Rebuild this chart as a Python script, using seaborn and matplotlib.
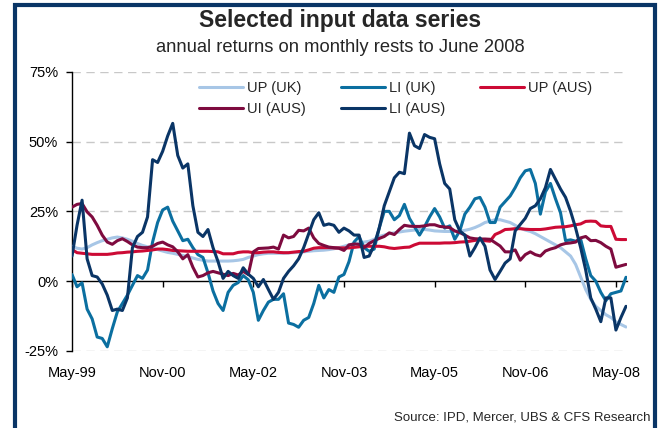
import numpy as np
import pandas as pd
import matplotlib
matplotlib.use("Agg")
import matplotlib.pyplot as plt
import seaborn as sns
from matplotlib.patches import Rectangle
from matplotlib.lines import Line2D

# ---------------- data (annual returns, %, monthly, May-99 .. Jun-08) ----------------
up_uk = [12.5, 11.8, 11.5, 12, 13, 13.8, 14.5, 15, 15.5, 15.8, 15.5, 15, 14.3, 13.5, 12.8, 12.3,
         11.8, 11.3, 10.8, 10.3, 10, 9.6, 9.2, 8.8, 8.3, 7.8, 7.5, 7.2, 7.2, 7.2, 7.2, 7.2,
         7.3, 7.5, 7.8, 8.5, 9, 9.5, 9.8, 10, 10, 10, 10, 10.1, 10.2, 10.3, 10.5, 10.7,
         10.9, 11, 11.1, 11.3, 11.6, 12, 12.5, 13, 13.4, 13.7, 14, 14.3, 15, 16, 16.5, 17,
         17.3, 17.6, 17.9, 18.1, 18.3, 18.5, 18.5, 18.3, 18, 17.9, 17.8, 17.8, 17.8, 17.9,
         18.2, 18.6, 19.2, 20, 21, 21.5, 22, 22, 21.5, 21, 20, 19, 18.3, 17.8, 17, 16, 15,
         14, 13, 12, 10.5, 9, 6, 1.5, -3, -6.5, -9, -10.5, -12, -13, -14.5, -15.5, -16.4]

li_uk = [2.4, -2, -0.6, -10, -13.5, -20, -20.5, -23.5, -17, -11, -8, -5, -1.5, 2, 1, 4,
         14, 21, 25.5, 26.5, 21.5, 18, 14.5, 15, 12, 9.5, 8.5, 3, -3.5, -8, -10.5, -4,
         -1.5, -0.5, 2, 0.5, -4, -14, -10.5, -7.5, -6.5, -6.5, -4.5, -15, -15.5, -16.5, -14, -13,
         -8, -1.5, -6, -3, -4, 1.5, 2.4, 7, 14, 16, 12, 10.7, 11.5, 19, 25, 25,
         22, 23.5, 27.5, 22.5, 19.5, 16.5, 19.5, 23, 26, 23, 19, 19.8, 15, 18, 24, 26.5,
         29.5, 30, 26.5, 21, 21, 26.5, 28.5, 30.5, 33.5, 37, 39.5, 40, 35, 24, 32, 35,
         29.5, 24.5, 14.5, 14.8, 14.3, 15, 8, 2, 0, -4, -7, -4.5, -4, -3.5, 1.4]

up_aus = [11.3, 10.2, 10, 9.8, 9.6, 9.6, 9.6, 9.6, 9.8, 10.1, 10.2, 10.4, 10.5, 10.7, 10.8, 11,
          11.2, 11.5, 11.5, 11.3, 11, 10.9, 10.8, 10.7, 10.7, 10.7, 10.7, 10.7, 10.6, 10.5, 9.8, 9.8,
          9.8, 10.3, 10.5, 10.5, 10.2, 10.2, 10.4, 10.5, 10.5, 10.3, 10.2, 10.2, 10.4, 10.6, 10.7, 11.2,
          11.8, 12, 12, 12, 11.9, 11.9, 11.9, 11.9, 12.1, 12.3, 12.5, 12.5, 12.5, 12.5, 12.3, 11.9,
          11.7, 11.9, 12.1, 12.2, 13, 13.6, 13.6, 13.6, 13.6, 13.6, 13.7, 13.7, 13.8, 14, 14.1, 14.3,
          14.6, 14.9, 14.5, 14.3, 16.7, 17.5, 18.5, 18.6, 18.8, 18.8, 18.6, 18.5, 18.5, 18.5, 18.7, 19,
          19.3, 19.4, 19.5, 19.8, 20.2, 20.5, 21.4, 21.5, 21.4, 19.8, 19.6, 19.6, 15, 14.9, 14.9]

ui_aus = [26.5, 27.5, 27.8, 24.8, 23, 20, 16.5, 14, 13.2, 14.5, 15.2, 14.2, 13, 12.2, 12, 12,
          12.5, 13.5, 14, 13, 12.3, 10.5, 8, 9.5, 5, 1.5, 2, 3, 3.5, 3, 2.5, 2,
          2.8, 2.2, 3.5, 2.4, 10.5, 11.7, 11.8, 11.9, 12.2, 11.5, 16.5, 15.5, 16, 18.2, 18, 19,
          15.5, 13.5, 12.8, 12.2, 12, 11.8, 11, 13, 13.3, 13.2, 12, 13.5, 14.5, 15.3, 16, 17.3,
          16.7, 18.5, 20, 19.7, 19.6, 19.6, 19.8, 20.2, 20.2, 19.6, 19.4, 19.2, 18, 17.4, 16.5, 15.5,
          15.2, 15.1, 15.1, 15, 13.8, 12.6, 10.5, 10.5, 11.2, 7.5, 9.5, 10.5, 9.5, 9, 10.8, 11.5,
          12, 13, 13.5, 13.7, 14, 15.5, 16, 14.5, 14.6, 13.8, 12.5, 11.5, 5, 5.5, 6]

li_aus = [9, 20, 29, 8, 2, 1.5, -1, -5, -10.5, -10, -10.5, -6, 12, 16, 17.5, 23,
          43.5, 42.5, 46.5, 52, 56.5, 45, 40.5, 42, 27, 17.5, 16, 18.5, 12, 7, 1, 3.5,
          2, 1, 4.8, 2.5, 1, -2, 0.6, -3, -6.5, -4, 1, 3.5, 5.5, 8, 12, 17,
          22, 24.5, 20, 20.5, 20, 17.5, 19, 18, 16.5, 16.5, 8.5, 9, 13, 19, 27, 32,
          37, 39, 38.5, 53, 48.5, 47.5, 52.5, 51.5, 51, 42, 35, 33, 22, 18, 16.5, 9,
          12, 15.5, 12.5, 4, 0.6, 3.5, 6.5, 8, 18, 20.3, 22.5, 26, 27, 29.5, 33.5, 40,
          36.5, 33, 30, 25, 19, 12, 4, -6, -10, -14.5, -6, -6, -17.5, -13, -9]

series_names = ["UP (UK)", "LI (UK)", "UP (AUS)", "UI (AUS)", "LI (AUS)"]
series_values = [up_uk, li_uk, up_aus, ui_aus, li_aus]
colors = ["#A7C6E6", "#0B6FA0", "#CC0A35", "#7E0B3F", "#0A3566"]

tick_months = [0, 18, 36, 54, 72, 90, 108]
tick_labels = ["May-99", "Nov-00", "May-02", "Nov-03", "May-05", "Nov-06", "May-08"]
y_ticks = [-25, 0, 25, 50, 75]
y_labels = ["-25%", "0%", "25%", "50%", "75%"]

title = "Selected input data series"
subtitle = "annual returns on monthly rests to June 2008"
source = "Source: IPD, Mercer, UBS & CFS Research"

# ---------------- build long table ----------------
frames = []
for name, vals in zip(series_names, series_values):
    frames.append(pd.DataFrame({"month": np.arange(len(vals)), "value": vals, "series": name}))
df = pd.concat(frames, ignore_index=True)

sns.set_theme(style="white")
plt.rcParams["font.family"] = ["Liberation Sans", "DejaVu Sans"]

W, H = 661, 428
fig = plt.figure(figsize=(W / 100, H / 100), dpi=100)
fig.patch.set_facecolor("white")

def fx(px):
    return px / W

def fy(py):
    return 1 - py / H

ax_left, ax_right, ax_top, ax_bot = 72, 627, 71.7, 351
ax = fig.add_axes([fx(ax_left), fy(ax_bot), fx(ax_right - ax_left), fy(ax_top) - fy(ax_bot)])
ax.set_facecolor("white")

sns.lineplot(data=df, x="month", y="value", hue="series", hue_order=series_names,
             palette=dict(zip(series_names, colors)), linewidth=2.2, legend=False, ax=ax,
             zorder=3)

ax.set_xlim(0, 110.2)
ax.set_ylim(-25, 75)
ax.set_xlabel("")
ax.set_ylabel("")

# gridlines
for yv in [75, 50, 25, -25]:
    ax.axhline(yv, color="#C8C8C8", lw=1.0, ls=(0, (6, 4)), zorder=1)

for s in ["top", "right"]:
    ax.spines[s].set_visible(False)
ax.spines["left"].set_color("black")
ax.spines["left"].set_linewidth(1.0)
ax.spines["bottom"].set_position(("data", 0))
ax.spines["bottom"].set_color("black")
ax.spines["bottom"].set_linewidth(1.0)
ax.spines["bottom"].set_zorder(2)

ax.set_yticks(y_ticks)
ax.set_yticklabels(y_labels)
ax.set_xticks(tick_months)
ax.set_xticklabels(tick_labels)
ax.tick_params(axis="y", direction="out", length=4, width=1, color="black",
               labelsize=10.5, pad=6, left=True)
ax.tick_params(axis="x", direction="out", length=4, width=1, color="black",
               labelsize=10.5, pad=57, bottom=True)
for lab in ax.get_xticklabels() + ax.get_yticklabels():
    lab.set_color("black")

# legend (row-major order as in reference)
handles = {n: Line2D([0], [0], color=c, lw=2.2) for n, c in zip(series_names, colors)}
order = ["UP (UK)", "UI (AUS)", "LI (UK)", "LI (AUS)", "UP (AUS)"]
leg = fig.legend([handles[n] for n in order], order, ncol=3, frameon=False,
                 loc="upper left", bbox_to_anchor=(fx(199), fy(81)),
                 fontsize=10.5, handlelength=3.0, handletextpad=0.3,
                 columnspacing=2.4, labelspacing=0.5, borderpad=0, borderaxespad=0)

# titles
fig.text(fx(340), fy(21), title, ha="center", va="center", fontsize=16.5, fontweight="bold")
fig.text(fx(340), fy(48), subtitle, ha="center", va="center", fontsize=13.2)
fig.text(fx(651), fy(418), source, ha="right", va="center", fontsize=9.5)

# frame border
fig.patches.append(Rectangle((fx(15), fy(440)), fx(655 - 15), fy(5) - fy(440),
                             transform=fig.transFigure, fill=False,
                             edgecolor="#0A3566", linewidth=3, zorder=10))

fig.savefig("out.png", dpi=100, facecolor="white")
